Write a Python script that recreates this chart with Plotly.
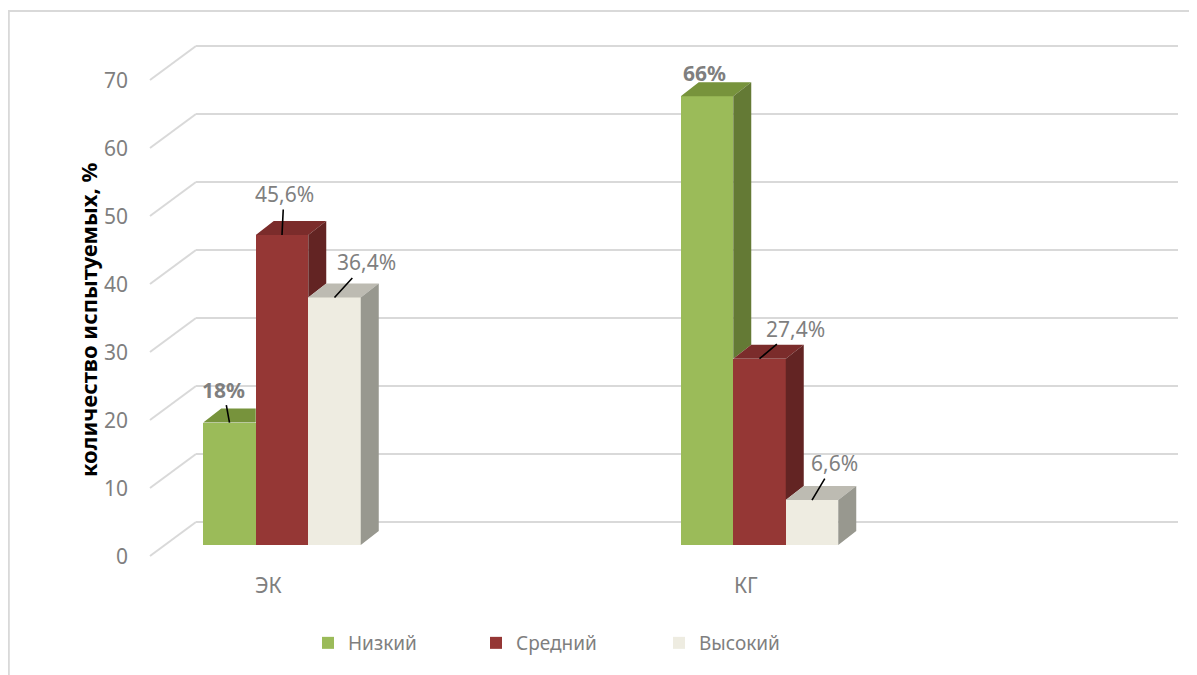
import plotly.graph_objects as go

# ---------------- data ----------------
categories = ["ЭК", "КГ"]
series_names = ["Низкий", "Средний", "Высокий"]
low_vals = [18.0, 66.0]
mid_vals = [45.6, 27.4]
high_vals = [36.4, 6.6]
label_texts_low = ["18%", "66%"]
label_texts_mid = ["45,6%", "27,4%"]
label_texts_high = ["36,4%", "6,6%"]
y_ticks = [0, 10, 20, 30, 40, 50, 60, 70]

# ---------------- style ----------------
OFF = 8                      # page body margin of the browser
W, H = 1197 - OFF, 675 - OFF

def fx(ref_px):              # reference x pixel -> figure pixel
    return ref_px - OFF

def fy(ref_px):
    return ref_px - OFF

X0PX, XSCALE = fx(282.0), 477.5      # px of category 0 (bar front plane), px per category
Y0PX, YSCALE = fy(545.0), 6.8        # px of value 0 (bar front plane), px per unit

def dx_px(p):
    return p / XSCALE

def dy_px(p):
    return p / YSCALE

BAR_W = dx_px(52.5)
BAR_DX, BAR_DY = dx_px(18), dy_px(14)          # bar depth
WALL_DX, WALL_DY = dx_px(30), dy_px(23)        # back wall vs bar front plane
AXF_DX, AXF_DY = dx_px(-16), dy_px(-11)        # front axis plane vs bar front plane
GRID_X_LEFT = dx_px(fx(150) - X0PX)            # front-left of floor
GRID_X_RIGHT = dx_px(fx(1146) - X0PX) - WALL_DX - AXF_DX

face_front = ["#9bbb59", "#953735", "#eeece1"]
face_top = ["#77933c", "#7b2c2b", "#bdbbb2"]
face_side = ["#647a35", "#632423", "#98988f"]
grid_col = "#d9d9d9"
txt_col = "#7f7f7f"
FONT = "Noto Sans, Open Sans, DejaVu Sans, sans-serif"

all_vals = [low_vals, mid_vals, high_vals]
all_labels = [label_texts_low, label_texts_mid, label_texts_high]
label_bold = [True, False, False]
# per-label text offsets (px) from bar front-top centre, and whether leader line shown
label_off = [[(-6, -33, True), (-3, -23, False)],
             [(2, -41, True), (36, -30, True)],
             [(32, -35, True), (22, -37, True)]]
legend_square_ref = [326, 494, 677]
legend_names = ["legend", "legend2", "legend3"]

fig = go.Figure()

# gridlines (back wall + floor diagonals)
for v in y_ticks:
    xb = GRID_X_LEFT + (WALL_DX - AXF_DX)
    fig.add_shape(type="line", layer="below",
                  x0=GRID_X_LEFT, y0=v + AXF_DY, x1=xb, y1=v + WALL_DY,
                  line=dict(color=grid_col, width=2))
    fig.add_shape(type="line", layer="below",
                  x0=xb, y0=v + WALL_DY, x1=xb + (GRID_X_RIGHT - GRID_X_LEFT), y1=v + WALL_DY,
                  line=dict(color=grid_col, width=2))

n_ser = len(all_vals)
for s in range(n_ser):
    vals = all_vals[s]
    xs = [i + (s - 1) * BAR_W for i in range(len(categories))]
    fig.add_trace(go.Bar(x=xs, y=vals, width=BAR_W, name=series_names[s],
                         legend=legend_names[s],
                         marker=dict(color=face_front[s], line=dict(width=0)),
                         hoverinfo="skip"))
    top_x, top_y, side_x, side_y = [], [], [], []
    for i, h in enumerate(vals):
        xl = xs[i] - BAR_W / 2
        xr = xs[i] + BAR_W / 2
        nxt = all_vals[s + 1][i] if s + 1 < n_ser else None
        if nxt is not None and nxt > h:
            # top face clipped by taller neighbour, side hidden
            top_x += [xl, xr, xr, xl + BAR_DX, xl, None]
            top_y += [h, h, h + BAR_DY, h + BAR_DY, h, None]
        else:
            top_x += [xl, xr, xr + BAR_DX, xl + BAR_DX, xl, None]
            top_y += [h, h, h + BAR_DY, h + BAR_DY, h, None]
            base = nxt if nxt is not None else 0
            side_x += [xr, xr + BAR_DX, xr + BAR_DX, xr, xr, None]
            side_y += [base, base + BAR_DY, h + BAR_DY, h, base, None]
    fig.add_trace(go.Scatter(x=top_x, y=top_y, mode="lines", fill="toself",
                             fillcolor=face_top[s], line=dict(width=0, color=face_top[s]),
                             showlegend=False, hoverinfo="skip"))
    if side_x:
        fig.add_trace(go.Scatter(x=side_x, y=side_y, mode="lines", fill="toself",
                                 fillcolor=face_side[s], line=dict(width=0, color=face_side[s]),
                                 showlegend=False, hoverinfo="skip"))
    # data labels
    for i, h in enumerate(vals):
        ox, oy, lead = label_off[s][i]
        txt = all_labels[s][i]
        if label_bold[s]:
            txt = "<b>" + txt + "</b>"
        if lead:
            fig.add_annotation(x=xs[i], y=h, text=txt, showarrow=True, arrowhead=0,
                               arrowwidth=1.6, arrowcolor="black", ax=ox, ay=oy, standoff=0,
                               font=dict(family=FONT, size=21, color=txt_col))
        else:
            fig.add_annotation(x=xs[i], y=h, text=txt, showarrow=False,
                               xshift=ox, yshift=-oy,
                               font=dict(family=FONT, size=21, color=txt_col))

# y tick labels (front axis plane)
for v in y_ticks:
    fig.add_annotation(x=GRID_X_LEFT - dx_px(20), y=v + AXF_DY, text=str(v), showarrow=False,
                       xanchor="right", yanchor="middle",
                       font=dict(family=FONT, size=21, color=txt_col))

# category labels
for i, c in enumerate(categories):
    fig.add_annotation(x=i + dx_px(-14), y=dy_px(-40), text=c, showarrow=False,
                       xanchor="center", yanchor="middle",
                       font=dict(family=FONT, size=21, color=txt_col))

# y axis title
fig.add_annotation(xref="paper", yref="paper", x=fx(88) / W, y=1 - fy(320) / H,
                   text="<b>количество испытуемых, %</b>", showarrow=False, textangle=-90,
                   xanchor="center", yanchor="middle",
                   font=dict(family=FONT, size=22, color="black"))

# chart border (top & left)
fig.add_shape(type="line", xref="paper", yref="paper",
              x0=0, y0=1 - fy(11) / H, x1=1, y1=1 - fy(11) / H,
              line=dict(color=grid_col, width=2))
fig.add_shape(type="line", xref="paper", yref="paper",
              x0=0.8 / W, y0=1 - fy(11) / H, x1=0.8 / W, y1=0,
              line=dict(color=grid_col, width=2))

legend_layouts = {}
for k, name in enumerate(legend_names):
    legend_layouts[name] = dict(
        orientation="h", x=(fx(legend_square_ref[k]) - 13 - 5) / W, y=1 - fy(643) / H,
        xanchor="left", yanchor="middle",
        font=dict(family=FONT, size=19, color=txt_col), bgcolor="rgba(0,0,0,0)")

fig.update_layout(
    width=W, height=H,
    margin=dict(l=0, r=0, t=0, b=0),
    paper_bgcolor="white", plot_bgcolor="white",
    barmode="overlay", bargap=0,
    showlegend=True,
    xaxis=dict(range=[-X0PX / XSCALE, (W - X0PX) / XSCALE], visible=False, fixedrange=True),
    yaxis=dict(range=[-(H - Y0PX) / YSCALE, Y0PX / YSCALE], visible=False, fixedrange=True),
    **legend_layouts,
)

fig.write_html("out.html")
